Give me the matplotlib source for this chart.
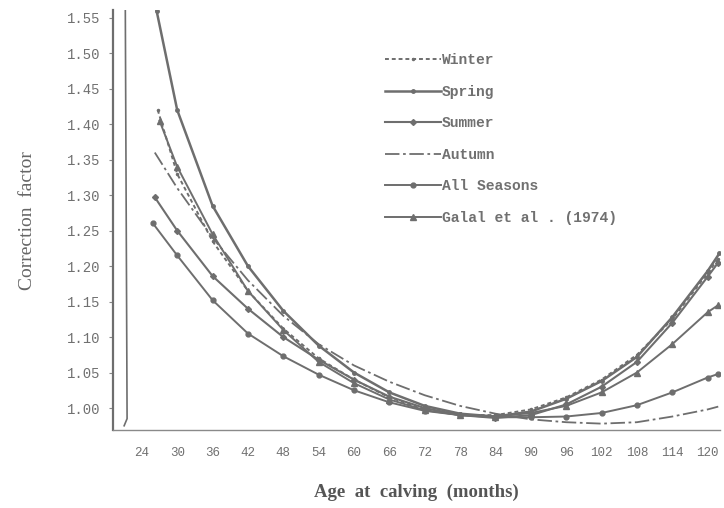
import matplotlib
matplotlib.use('Agg')
import matplotlib.pyplot as plt

# age at calving (months) and correction factors
spring_age = [26.5, 30, 36, 42, 48, 54, 60, 66, 72, 78, 84, 90, 96, 102, 108, 114, 120, 122]
spring_cf  = [1.56, 1.42, 1.285, 1.20, 1.137, 1.088, 1.05, 1.022, 1.003, 0.992, 0.988, 0.995, 1.013, 1.038, 1.072, 1.128, 1.193, 1.218]

winter_age = [26.7, 30, 36, 42, 48, 54, 60, 66, 72, 78, 84, 90, 96, 102, 108, 114, 120, 121.8]
winter_cf  = [1.42, 1.33, 1.235, 1.165, 1.112, 1.07, 1.04, 1.015, 0.998, 0.99, 0.99, 0.998, 1.015, 1.04, 1.075, 1.125, 1.19, 1.21]

galal_age = [27, 30, 36, 42, 48, 54, 60, 66, 72, 78, 84, 90, 96, 102, 108, 114, 120, 121.8]
galal_cf  = [1.405, 1.34, 1.245, 1.165, 1.11, 1.065, 1.035, 1.012, 0.997, 0.99, 0.988, 0.993, 1.003, 1.022, 1.05, 1.09, 1.135, 1.145]

autumn_age = [26.2, 30, 36, 42, 48, 54, 60, 66, 72, 78, 84, 90, 96, 102, 108, 114, 120, 121.8]
autumn_cf  = [1.36, 1.31, 1.24, 1.18, 1.13, 1.09, 1.06, 1.037, 1.018, 1.003, 0.992, 0.984, 0.98, 0.978, 0.98, 0.988, 0.998, 1.002]

summer_age = [26.2, 30, 36, 42, 48, 54, 60, 66, 72, 78, 84, 90, 96, 102, 108, 114, 120, 121.8]
summer_cf  = [1.297, 1.25, 1.186, 1.14, 1.10, 1.068, 1.04, 1.016, 1.0, 0.99, 0.986, 0.99, 1.005, 1.03, 1.065, 1.12, 1.185, 1.205]

all_age = [25.9, 30, 36, 42, 48, 54, 60, 66, 72, 78, 84, 90, 96, 102, 108, 114, 120, 121.8]
all_cf  = [1.26, 1.215, 1.152, 1.105, 1.073, 1.047, 1.025, 1.008, 0.996, 0.99, 0.987, 0.987, 0.988, 0.993, 1.004, 1.022, 1.043, 1.048]

# the near-vertical stroke drawn next to the y axis in the original
edge_age = [21.0, 21.5, 21.2]
edge_cf  = [0.975, 0.985, 1.56]

xticks = [24, 30, 36, 42, 48, 54, 60, 66, 72, 78, 84, 90, 96, 102, 108, 114, 120]
yticks = [1.00, 1.05, 1.10, 1.15, 1.20, 1.25, 1.30, 1.35, 1.40, 1.45, 1.50, 1.55]

grey = '#6e6e6e'
mono = ['Liberation Mono', 'DejaVu Sans Mono']
serif = ['Liberation Serif', 'DejaVu Serif']

fig = plt.figure(figsize=(7.24, 5.08), dpi=100)
ax = fig.add_axes([0.156, 0.1535, 0.8385, 0.8265])

ax.plot(winter_age, winter_cf, color=grey, lw=1.4, ls=(0, (2, 1.5)),
        marker='.', markersize=3, label='Winter')
ax.plot(spring_age, spring_cf, color=grey, lw=1.8,
        marker='o', markersize=2.5, label='Spring')
ax.plot(summer_age, summer_cf, color=grey, lw=1.5,
        marker='D', markersize=3, label='Summer')
ax.plot(autumn_age, autumn_cf, color=grey, lw=1.3, ls=(0, (8, 2, 1.5, 2)),
        label='Autumn')
ax.plot(all_age, all_cf, color=grey, lw=1.4,
        marker='o', markersize=3.5, label='All Seasons')
ax.plot(galal_age, galal_cf, color=grey, lw=1.4,
        marker='^', markersize=4, label='Galal et al . (1974)')
ax.plot(edge_age, edge_cf, color=grey, lw=1.2)

ax.set_xlim(19.1, 122.1)
ax.set_ylim(0.969, 1.5606)
ax.set_xticks(xticks)
ax.set_xticklabels([str(t) for t in xticks], family=mono, fontsize=9)
ax.set_yticks(yticks)
ax.set_yticklabels(['%.2f' % t for t in yticks], family=mono, fontsize=10)
ax.tick_params(axis='both', colors='#888888', length=3, width=0.8, pad=6)
ax.tick_params(axis='x', length=0, pad=12)
for lab in ax.get_xticklabels() + ax.get_yticklabels():
    lab.set_color('#707070')

for s in ['top', 'right']:
    ax.spines[s].set_visible(False)
ax.spines['left'].set_color(grey)
ax.spines['left'].set_linewidth(1.6)
ax.spines['bottom'].set_color('#8a8a8a')
ax.spines['bottom'].set_linewidth(1.0)

ax.set_ylabel('Correction  factor', family=serif, fontsize=14, color='#666666', labelpad=22)
ax.set_xlabel('Age  at  calving  (months)', family=serif, fontsize=13.5, fontweight='bold',
              color='#555555', labelpad=18)

leg = ax.legend(loc='upper left', bbox_to_anchor=(0.532, 0.895), bbox_transform=fig.transFigure,
                frameon=False, borderpad=0, borderaxespad=0, handlelength=3.8,
                handletextpad=0.1, labelspacing=1.2,
                prop={'family': mono, 'size': 10.5, 'weight': 'bold'})
for t in leg.get_texts():
    t.set_color('#707070')

plt.savefig('out.png', dpi=100)
